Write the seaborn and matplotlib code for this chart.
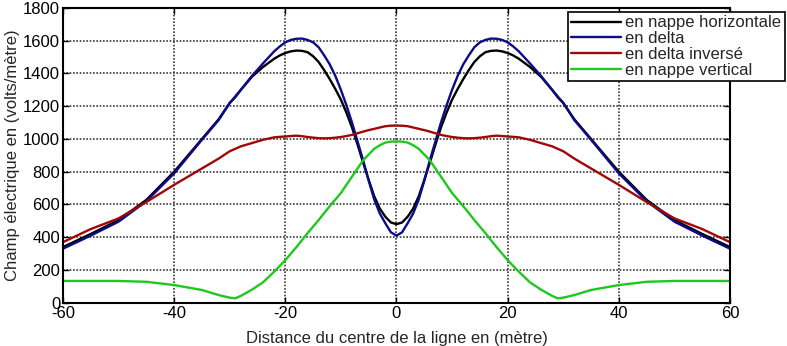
import numpy as np
import pandas as pd
import matplotlib
matplotlib.use('Agg')
import matplotlib.pyplot as plt
import seaborn as sns

# Distance from line centre (m)
x = [-60, -55, -50, -45, -40, -35, -32, -30, -29, -28, -26, -24,
     -22, -21, -20, -19, -18, -17, -16, -15, -14, -13, -12, -11, -10, -9, -8, -7, -6, -5, -4, -3, -2, -1, 0,
     1, 2, 3, 4, 5, 6, 7, 8, 9, 10, 11, 12, 13, 14, 15, 16, 17, 18, 19, 20, 21, 22,
     24, 26, 28, 29, 30, 32, 35, 40, 45, 50, 55, 60]

# Electric field (V/m) for each configuration
nappe_horiz = [340, 420, 505, 628, 800, 1000, 1120, 1220, 1255, 1300, 1380, 1440,
               1490, 1510, 1525, 1535, 1540, 1538, 1530, 1505, 1470, 1420, 1365, 1305, 1240, 1160, 1070, 965, 855, 750, 650, 575, 525, 490, 480,
               490, 525, 575, 650, 750, 855, 965, 1070, 1160, 1240, 1305, 1365, 1420, 1470, 1505, 1530, 1538, 1540, 1535, 1525, 1510, 1490,
               1440, 1380, 1300, 1255, 1220, 1120, 1000, 800, 628, 505, 420, 340]
delta = [330, 410, 495, 620, 790, 995, 1115, 1220, 1260, 1300, 1385, 1462,
         1535, 1565, 1590, 1605, 1612, 1613, 1605, 1590, 1560, 1510, 1455, 1385, 1300, 1205, 1100, 985, 870, 745, 630, 545, 485, 430, 410,
         430, 485, 545, 630, 745, 870, 985, 1100, 1205, 1300, 1385, 1455, 1510, 1560, 1590, 1605, 1613, 1612, 1605, 1590, 1565, 1535,
         1462, 1385, 1300, 1260, 1220, 1115, 995, 790, 620, 495, 410, 330]
delta_inv = [370, 450, 515, 615, 720, 820, 880, 925, 940, 955, 975, 995,
             1010, 1013, 1015, 1018, 1020, 1017, 1012, 1008, 1005, 1004, 1005, 1008, 1012, 1018, 1025, 1035, 1045, 1054, 1062, 1070, 1078, 1081, 1082,
             1081, 1078, 1070, 1062, 1054, 1045, 1035, 1025, 1018, 1012, 1008, 1005, 1004, 1005, 1008, 1012, 1017, 1020, 1018, 1015, 1013, 1010,
             995, 975, 955, 940, 925, 880, 820, 720, 615, 515, 450, 370]
nappe_vert = [133, 133, 133, 128, 108, 78, 47, 31, 27, 42, 80, 125,
              190, 225, 260, 300, 340, 382, 425, 465, 505, 548, 590, 630, 670, 720, 770, 820, 870, 905, 940, 962, 978, 984, 985,
              984, 978, 962, 940, 905, 870, 820, 770, 720, 670, 630, 590, 548, 505, 465, 425, 382, 340, 300, 260, 225, 190,
              125, 80, 42, 27, 31, 47, 78, 108, 128, 133, 133, 133]

labels = ['en nappe horizontale', 'en delta', 'en delta inversé', 'en nappe vertical']
colors = ['#000000', '#0c0c8a', '#a00808', '#1ec81e']

df = pd.concat([
    pd.DataFrame({'x': x, 'E': vals, 'config': lab})
    for vals, lab in zip([nappe_horiz, delta, delta_inv, nappe_vert], labels)
])

sns.set_style('white')
plt.rcParams['font.family'] = ['Liberation Sans', 'DejaVu Sans']
plt.rcParams['axes.unicode_minus'] = False

fig = plt.figure(figsize=(7.87, 3.46), dpi=100)
ax = fig.add_axes([0.080, 0.125, 0.8476, 0.852])

sns.lineplot(data=df, x='x', y='E', hue='config', hue_order=labels,
             palette=colors, linewidth=1.7, ax=ax, sort=True)

ax.set_xlim(-60, 60)
ax.set_ylim(0, 1800)
ax.set_xticks(range(-60, 61, 20))
ax.set_yticks(range(0, 1801, 200))
ax.grid(True, color='#3a3a3a', linestyle=(0, (1, 1)), linewidth=1.2)
ax.tick_params(direction='in', length=4, labelsize=12, colors='black',
               top=True, right=True, bottom=True, left=True, width=1)
ax.tick_params(axis='x', pad=2.5)
ax.tick_params(axis='y', pad=2)
for s in ax.spines.values():
    s.set_color('black')
    s.set_linewidth(1.5)

ax.set_xlabel('Distance du centre de la ligne en (mètre)', fontsize=12, labelpad=7)
ax.set_ylabel('Champ électrique en (volts/mètre)', fontsize=12, labelpad=2)

leg = ax.legend(loc='upper right', bbox_to_anchor=(0.997, 0.965),
                bbox_transform=fig.transFigure, fontsize=12, frameon=True,
                fancybox=False, framealpha=1, edgecolor='black',
                handlelength=3.0, borderpad=0.2, labelspacing=0.05,
                handletextpad=0.25, borderaxespad=0, title=None)
leg.get_frame().set_linewidth(1.2)

fig.savefig('out.png', dpi=100)
